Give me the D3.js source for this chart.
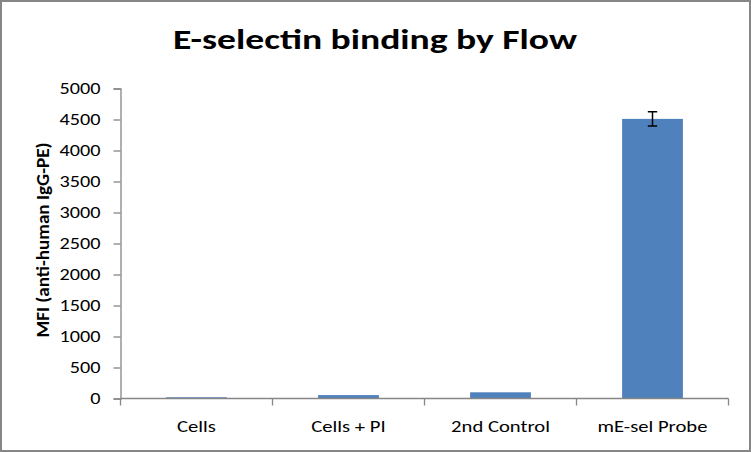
<!DOCTYPE html>
<html>
<head>
<meta charset="utf-8">
<script src="https://cdn.jsdelivr.net/npm/d3@7"></script>
<style>
  html, body { margin: 0; padding: 0; background: #fff; }
  svg { display: block; }
  text { font-family: Carlito, Calibri, Lato, "Open Sans", sans-serif; }
</style>
</head>
<body>
<svg id="chart" width="751" height="452"></svg>
<script>
const categories = ["Cells", "Cells + PI", "2nd Control", "mE-sel Probe"];
const values = [20, 55, 100, 4510];
const errors = [0, 0, 0, 115];
const yTicks = [0, 500, 1000, 1500, 2000, 2500, 3000, 3500, 4000, 4500, 5000];
const title = "E-selectin binding by Flow";
const yLabel = "MFI (anti-human IgG-PE)";

const svg = d3.select("#chart");
const W = 751, H = 452;
const m = { left: 120.5, right: 728.5, top: 88.5, bottom: 398.5 };

svg.append("rect").attr("x", 1).attr("y", 1).attr("width", W - 2).attr("height", H - 2)
  .attr("fill", "#fff").attr("stroke", "#868686").attr("stroke-width", 2);

const x = d3.scaleBand().domain(categories).range([m.left, m.right]).paddingInner(0).paddingOuter(0);
const y = d3.scaleLinear().domain([0, 5000]).range([m.bottom, m.top]);

const axisColor = "#868686";

// stretch a selection of texts horizontally so that the reference text reaches target width
function stretch(sel, refNode, target) {
  const k = target / refNode.getComputedTextLength();
  sel.each(function () {
    const w = this.getComputedTextLength();
    d3.select(this).attr("textLength", w * k).attr("lengthAdjust", "spacingAndGlyphs");
  });
}

// Y axis
const yAxis = svg.append("g").attr("transform", `translate(${m.left},0)`)
  .call(d3.axisLeft(y).tickValues(yTicks).tickSize(7).tickPadding(13).tickFormat(d3.format("d")));
yAxis.select(".domain").attr("stroke", axisColor).attr("stroke-width", 1.3);
yAxis.selectAll(".tick line").attr("stroke", axisColor).attr("stroke-width", 1.3);
const yTickText = yAxis.selectAll(".tick text").attr("font-size", 17).attr("fill", "#000")
  .attr("font-family", "Carlito, Calibri, Lato, 'Open Sans', sans-serif");
stretch(yTickText, yTickText.filter(d => d === 4500).node(), 41);

// Bars
svg.append("g").selectAll("rect").data(categories).join("rect")
  .attr("x", d => x(d) + x.bandwidth() * 0.3)
  .attr("width", x.bandwidth() * 0.4)
  .attr("y", (d, i) => y(values[i]))
  .attr("height", (d, i) => y(0) - y(values[i]))
  .attr("fill", "#4F81BD");

// Error bars
const eg = svg.append("g").attr("stroke", "#000").attr("stroke-width", 1.5);
categories.forEach((c, i) => {
  if (!errors[i]) return;
  const cx = x(c) + x.bandwidth() / 2;
  const y1 = y(values[i] + errors[i]), y2 = y(values[i] - errors[i]);
  eg.append("line").attr("x1", cx).attr("x2", cx).attr("y1", y1).attr("y2", y2);
  eg.append("line").attr("x1", cx - 4.7).attr("x2", cx + 4.7).attr("y1", y1).attr("y2", y1);
  eg.append("line").attr("x1", cx - 4.7).attr("x2", cx + 4.7).attr("y1", y2).attr("y2", y2);
});

// X axis
const xEdges = [m.left].concat(categories.map(c => x(c) + x.bandwidth()));
const xg = svg.append("g");
xg.append("line").attr("x1", m.left).attr("x2", m.right).attr("y1", m.bottom).attr("y2", m.bottom)
  .attr("stroke", axisColor).attr("stroke-width", 1.3);
xg.selectAll("line.tk").data(xEdges).join("line").attr("class", "tk")
  .attr("x1", d => d).attr("x2", d => d).attr("y1", m.bottom).attr("y2", m.bottom + 7)
  .attr("stroke", axisColor).attr("stroke-width", 1.3);
const xText = xg.selectAll("text").data(categories).join("text")
  .attr("x", d => x(d) + x.bandwidth() / 2).attr("y", 432)
  .attr("text-anchor", "middle").attr("font-size", 17).attr("fill", "#000")
  .text(d => d);
stretch(xText, xText.filter(d => d === "mE-sel Probe").node(), 110);

// Title
svg.append("text").attr("x", 375).attr("y", 49).attr("text-anchor", "middle")
  .attr("font-size", 28).attr("font-weight", "bold").attr("fill", "#000")
  .attr("textLength", 404).attr("lengthAdjust", "spacingAndGlyphs")
  .text(title);

// Y label
svg.append("text").attr("transform", `translate(49,240) rotate(-90)`)
  .attr("text-anchor", "middle").attr("font-size", 18).attr("font-weight", "bold").attr("fill", "#000")
  .attr("textLength", 195).attr("lengthAdjust", "spacingAndGlyphs")
  .text(yLabel);
</script>
</body>
</html>
